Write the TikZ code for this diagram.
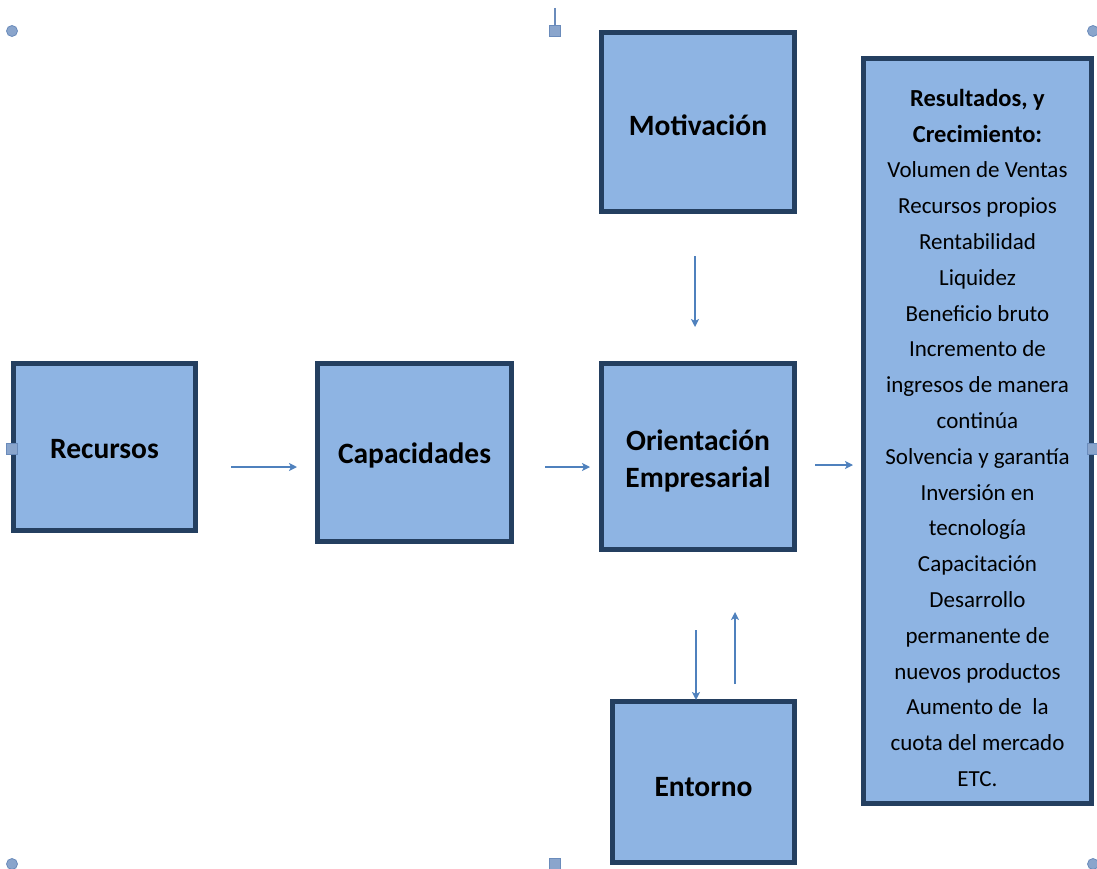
\documentclass[tikz,border=0pt]{standalone}
\usepackage{fontspec}
\setmainfont{Carlito}
\usetikzlibrary{arrows.meta}
\definecolor{boxfill}{HTML}{8EB4E3}
\definecolor{boxline}{HTML}{243F60}
\definecolor{arrowblue}{HTML}{4F81BD}
\definecolor{handlefill}{HTML}{8AA5CC}
\definecolor{handleline}{HTML}{6A8BBB}
\newcommand\listheadfont{\fontsize{24.5}{35.8}\selectfont\bfseries}
\tikzset{
  block/.style={draw=boxline, fill=boxfill, line width=4.2pt, inner sep=0pt},
  blocktext/.style={font=\fontsize{29.5}{37}\selectfont\bfseries, align=center, inner sep=0pt},
  listtext/.style={font=\fontsize{23}{35.8}\selectfont, align=center, inner sep=0pt},
  flow/.style={draw=arrowblue, line width=1.5pt, -{Stealth[length=8pt,width=8pt,inset=2pt]}},
  roundhandle/.style={circle, fill=handlefill, draw=handleline, line width=0.8pt,
    minimum size=11pt, inner sep=0pt},
  squarehandle/.style={rectangle, fill=handlefill, draw=handleline, line width=1pt,
    minimum size=11pt, inner sep=0pt}
}
\begin{document}
\begin{tikzpicture}[x=1pt,y=-1pt]
\useasboundingbox (0,0) rectangle (1097,869);

% main blocks
\node[block, minimum width=182pt, minimum height=167pt] (rec) at (104.5,447) {};
\node[block, minimum width=194pt, minimum height=178pt] (cap) at (414.5,452.5) {};
\node[block, minimum width=193pt, minimum height=186pt] (ori) at (698,456.5) {};
\node[block, minimum width=193pt, minimum height=179pt] (mot) at (698,122) {};
\node[block, minimum width=182pt, minimum height=161pt] (ent) at (703.5,782) {};
\node[block, minimum width=228pt, minimum height=745pt] (res) at (977.5,431) {};

% block labels
\node[blocktext] (rect) at ([yshift=-2pt]rec.center) {Recursos};
\node[blocktext] (capt) at ([yshift=-3pt]cap.center) {Capacidades};
\node[blocktext] (orit) at ([yshift=-4pt]ori.center) {Orientación\\Empresarial};
\node[blocktext] (mott) at ([yshift=-3pt]mot.center) {Motivación};
\node[blocktext] (entt) at ([yshift=-5pt]ent.center) {Entorno};
\node[listtext, anchor=north] (rest) at (977.5,89) {%
  {\listheadfont Resultados, y}\\
  {\listheadfont Crecimiento:}\\
  Volumen de Ventas\\
  Recursos propios\\
  Rentabilidad\\
  Liquidez\\
  Beneficio bruto\\
  Incremento de\\
  ingresos de manera\\
  continúa\\
  Solvencia y garantía\\
  Inversión en\\
  tecnología\\
  Capacitación\\
  Desarrollo\\
  permanente de\\
  nuevos productos\\
  Aumento de \ la\\
  cuota del mercado\\
  ETC.};

% free-standing arrows
\coordinate (a1s) at (231,467); \coordinate (a1e) at (297,467);
\coordinate (a2s) at (545,467); \coordinate (a2e) at (590,467);
\coordinate (a3s) at (815,465); \coordinate (a3e) at (853,465);
\coordinate (a4s) at (695,256); \coordinate (a4e) at (695,327);
\coordinate (a5s) at (696,630); \coordinate (a5e) at (696,700);
\coordinate (a6s) at (735,684); \coordinate (a6e) at (735,612);
\draw[flow] (a1s) -- (a1e);
\draw[flow] (a2s) -- (a2e);
\draw[flow] (a3s) -- (a3e);
\draw[flow] (a4s) -- (a4e);
\draw[flow] (a5s) -- (a5e);
\draw[flow] (a6s) -- (a6e);

% selection handles
\coordinate (rot) at (555,8);
\node[squarehandle] (hT) at (555,31) {};
\draw[handleline, line width=1.6pt] (rot) -- (hT.north);
\node[squarehandle] (hB) at (555,864) {};
\node[squarehandle] (hL) at (12,449) {};
\node[squarehandle] (hR) at (1093,449) {};
\node[roundhandle] (hTL) at (12,31) {};
\node[roundhandle] (hTR) at (1093,31) {};
\node[roundhandle] (hBL) at (12,864) {};
\node[roundhandle] (hBR) at (1093,864) {};
\end{tikzpicture}
\end{document}
